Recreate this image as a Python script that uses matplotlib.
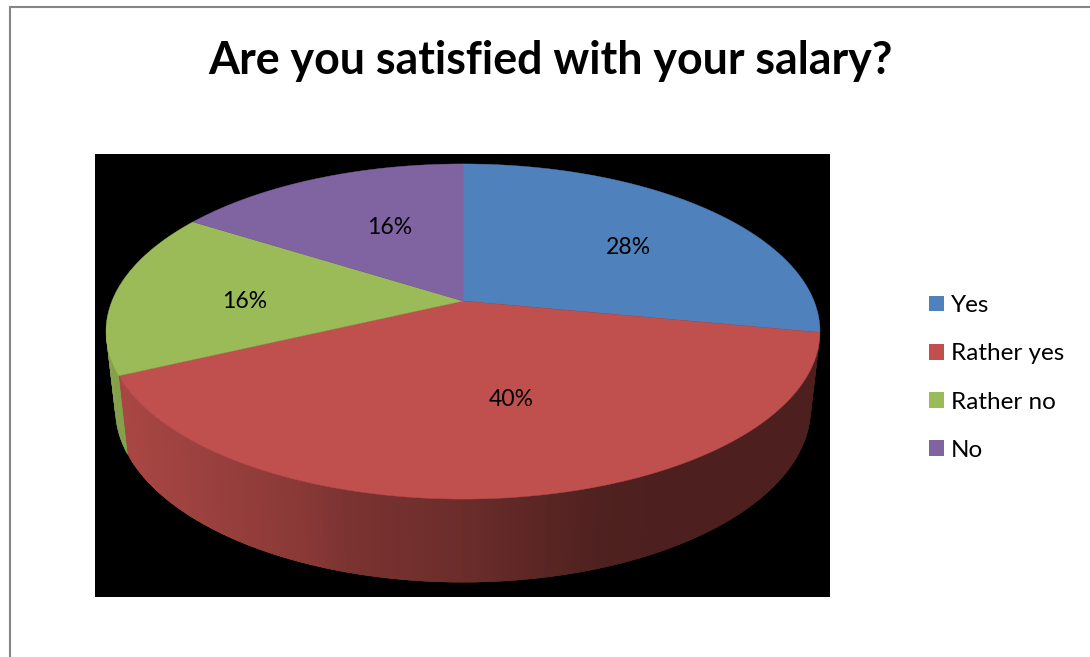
import numpy as np
import matplotlib
matplotlib.use("Agg")
import matplotlib.pyplot as plt
from matplotlib.patches import Patch, Polygon, Rectangle
from matplotlib.collections import PolyCollection
from matplotlib.colors import to_rgb

# Survey answers
categories = ["Yes", "Rather yes", "Rather no", "No"]
shares = [28, 40, 16, 16]
title_text = "Are you satisfied with your salary?"

# Styling
slice_colors = ["#4F81BD", "#C0504D", "#9BBB59", "#8064A2"]
frame_color = "#868686"
label_centres = [(628, 248), (511, 399), (245, 301), (390, 227)]
plt.rcParams["font.family"] = ["Lato", "DejaVu Sans"]

# Perspective parameters of the upper and lower rims of the disc
CX = 463
TOP = dict(cy=301, rx=351, ry=162, k=0.182)
BOTTOM = dict(cy=377, rx=342, ry=168, k=0.182)

# Wall brightness as a function of horizontal position
SHADE_X = [115, 128, 300, 350, 460, 600, 660, 820]
SHADE_F = [0.90, 0.88, 0.72, 0.64, 0.56, 0.41, 0.40, 0.40]


def project(theta, rim):
    """Map clockwise angles from 12 o'clock on a rim to pixel coordinates."""
    u, v = np.sin(theta), np.cos(theta)
    d = 1 + rim["k"] * v
    return CX + rim["rx"] * u / d, rim["cy"] - rim["ry"] * v / d


fig = plt.figure(figsize=(10.9, 6.57), dpi=100)
ax = fig.add_axes([0, 0, 1, 1])
ax.set_xlim(0, 1090)
ax.set_ylim(657, 0)
ax.axis("off")

# Chart frame (only the top and left edges fall inside the canvas)
ax.plot([10, 10, 1090], [657, 7, 7], color=frame_color, lw=1.5,
        solid_joinstyle="miter", zorder=1)

# Plot area background
ax.add_patch(Rectangle((95, 154), 735, 443, fc="black", ec="none", zorder=1))

edges = np.radians(np.cumsum([0] + shares) * 3.6)
silhouette = np.radians(262)

# Side wall: overlapping shaded strips, painted in angular order so no seams show
for i, colour in enumerate(slice_colors):
    start, stop = edges[i], min(edges[i + 1], silhouette)
    front_start = max(start, np.radians(100.5))
    if stop <= front_start:
        continue
    t = np.linspace(front_start, stop, 141)
    xt, yt = project(t, TOP)
    xb, yb = project(t, BOTTOM)
    quads, fills = [], []
    for j in range(len(t) - 1):
        # reach back over the neighbour that is painted next
        a = max(j - 2, 0)
        quads.append([(xt[a], yt[a]), (xt[j + 1], yt[j + 1]),
                      (xb[j + 1], yb[j + 1]), (xb[a], yb[a])])
        mid = (xb[j] + xb[j + 1]) / 2
        fills.append(np.array(to_rgb(colour)) * np.interp(mid, SHADE_X, SHADE_F))
    ax.add_collection(PolyCollection(quads[::-1], facecolors=fills[::-1],
                                     edgecolors="none", zorder=2))

# Top face
for i, colour in enumerate(slice_colors):
    t = np.linspace(edges[i], edges[i + 1], 200)
    xs, ys = project(t, TOP)
    pts = np.column_stack([np.r_[CX, xs], np.r_[TOP["cy"], ys]])
    ax.add_patch(Polygon(pts, closed=True, fc=colour, ec=colour, lw=0.3, zorder=3))

# Percentage labels
for share, (lx, ly) in zip(shares, label_centres):
    ax.text(lx, ly, f"{share}%", ha="center", va="center", fontsize=16.6,
            color="black", zorder=4)

ax.text(550, 61, title_text, ha="center", va="center", fontsize=32.2,
        fontweight="bold", color="black")

handles = [Patch(fc=c, ec="none", label=n) for c, n in zip(slice_colors, categories)]
ax.legend(handles=handles, loc="center left", bbox_to_anchor=(929, 378),
          bbox_transform=ax.transData, frameon=False, fontsize=17.5,
          handlelength=0.617, handleheight=0.617, handletextpad=0.29,
          labelspacing=1.12, borderpad=0, borderaxespad=0)

fig.savefig("out.png", dpi=100)
